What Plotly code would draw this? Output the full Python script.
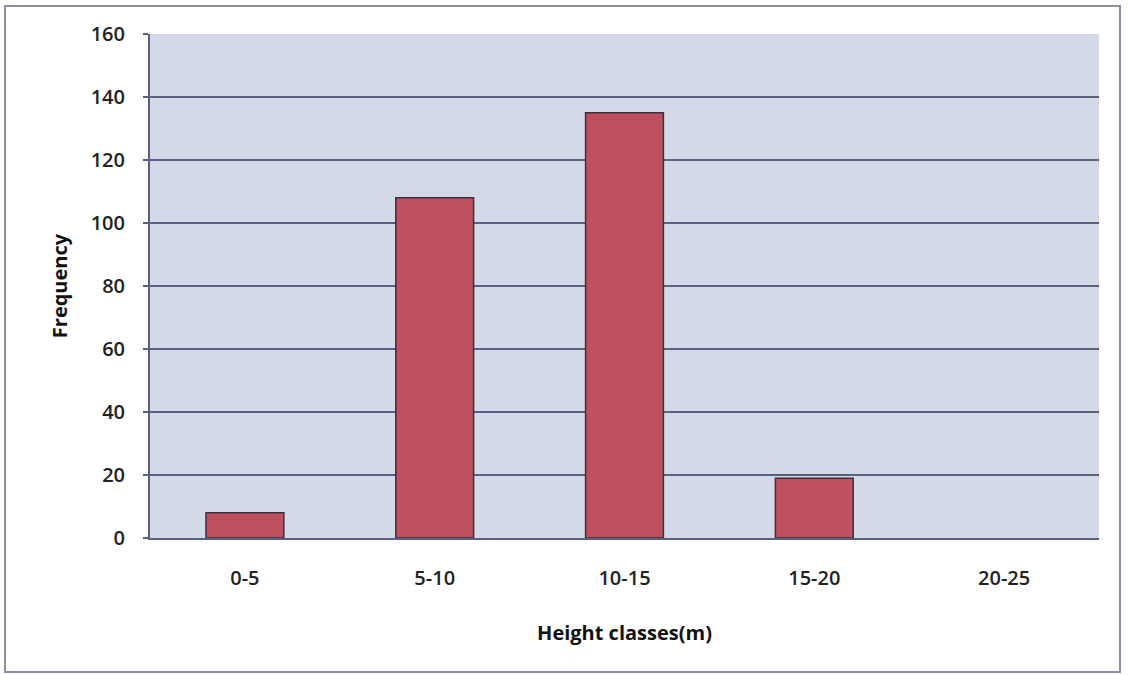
import plotly.graph_objects as go

# Height class histogram data
height_classes = ["0-5", "5-10", "10-15", "15-20", "20-25"]
frequency = [8, 108, 135, 19, 0]
y_ticks = [0, 20, 40, 60, 80, 100, 120, 140, 160]

W, H = 1129, 675
L, R, T, B = 150, 30, 34, 137
pw, ph = W - L - R, H - T - B


def px_x(x):
    return (x - L) / pw


def px_y(y):
    return (H - B - y) / ph


fig = go.Figure()
fig.add_trace(go.Bar(
    x=height_classes,
    y=frequency,
    marker=dict(
        color="#c0505f",
        line=dict(color="#3a3040", width=[1.5 if v > 0 else 0 for v in frequency]),
    ),
    width=0.41,
    hoverinfo="x+y",
))

tick_font = dict(size=20, weight=600, color="#222222")
title_font = dict(size=20, weight="bold", color="#111111")

fig.update_layout(
    width=W, height=H,
    margin=dict(l=L, r=R, t=T, b=B),
    paper_bgcolor="white",
    plot_bgcolor="#d4d9e8",
    showlegend=False,
    font=dict(family="Open Sans, Liberation Sans, sans-serif", color="#1a1a1a"),
    xaxis=dict(
        title=dict(text="Height classes(m)", font=title_font, standoff=36),
        tickfont=tick_font,
        ticklabelstandoff=21,
        showgrid=False,
        showline=True, linecolor="#5c6080", linewidth=2,
        ticks="",
    ),
    yaxis=dict(
        title=dict(text="Frequency", font=title_font, standoff=18),
        range=[0, 160],
        tickvals=y_ticks,
        tickfont=tick_font,
        ticklabelstandoff=14,
        showgrid=True, gridcolor="#5c6080", gridwidth=2,
        showline=True, linecolor="#5c6080", linewidth=2,
        ticks="outside", ticklen=5, tickcolor="#5c6080", tickwidth=2,
        zeroline=False,
    ),
    shapes=[
        dict(type="rect", xref="paper", yref="paper",
             x0=px_x(5), x1=px_x(1120), y0=px_y(672), y1=px_y(6),
             line=dict(color="#8a8ea8", width=2), fillcolor="rgba(0,0,0,0)",
             layer="below"),
    ],
)

fig.write_html("out.html")
